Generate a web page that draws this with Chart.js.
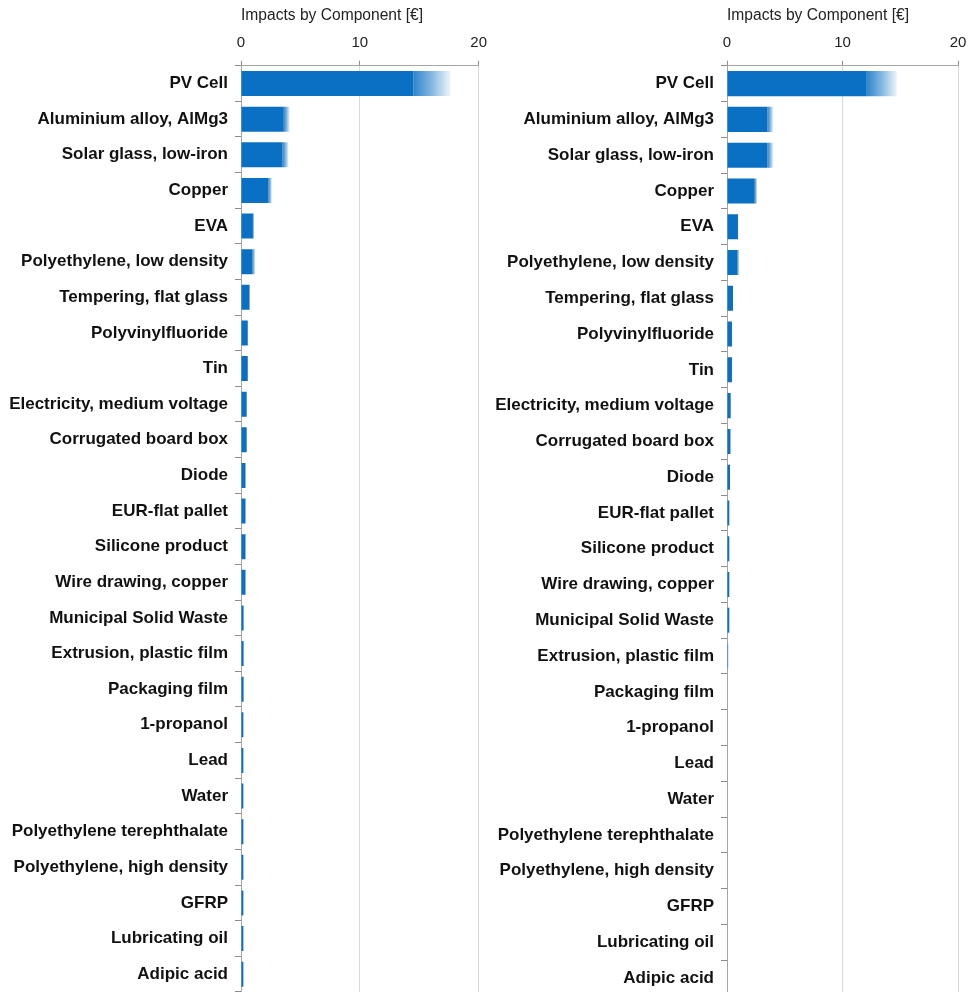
<!DOCTYPE html>
<html>
<head>
<meta charset="utf-8">
<script src="https://cdn.jsdelivr.net/npm/chart.js@4/dist/chart.umd.min.js"></script>
<style>
  body { margin: 0; background: #fff; overflow: hidden; }
  #left { position: absolute; left: 0; top: 0; }
  #right { position: absolute; left: 486px; top: 0; }
</style>
</head>
<body>
<canvas id="left" width="496" height="992"></canvas>
<canvas id="right" width="491" height="996"></canvas>
<script>
const components = [
    'PV Cell', 'Aluminium alloy, AlMg3', 'Solar glass, low-iron', 'Copper', 'EVA',
    'Polyethylene, low density', 'Tempering, flat glass', 'Polyvinylfluoride', 'Tin',
    'Electricity, medium voltage', 'Corrugated board box', 'Diode', 'EUR-flat pallet',
    'Silicone product', 'Wire drawing, copper', 'Municipal Solid Waste',
    'Extrusion, plastic film', 'Packaging film', '1-propanol', 'Lead', 'Water',
    'Polyethylene terephthalate', 'Polyethylene, high density', 'GFRP',
    'Lubricating oil', 'Adipic acid'
];
const xTicks = [0, 10, 20];

// left panel: solid part and end of the faded range
const leftLow = [14.5, 3.6, 3.5, 2.3, 1.0, 0.95, 0.7, 0.57, 0.57, 0.48, 0.48, 0.38, 0.38,
    0.38, 0.38, 0.22, 0.22, 0.22, 0.2, 0.2, 0.2, 0.2, 0.2, 0.2, 0.2, 0.2];
const leftHigh = [17.6, 4.1, 4.0, 2.6, 1.1, 1.2, 0.75, 0.6, 0.6, 0.5, 0.5, 0.4, 0.4,
    0.4, 0.4, 0.25, 0.25, 0.22, 0.2, 0.2, 0.2, 0.2, 0.2, 0.2, 0.2, 0.2];

// right panel
const rightLow = [12.1, 3.5, 3.5, 2.4, 0.95, 0.9, 0.52, 0.43, 0.43, 0.32, 0.3, 0.26, 0.2,
    0.2, 0.2, 0.2, 0, 0, 0, 0, 0, 0, 0, 0, 0, 0];
const rightHigh = [14.7, 4.0, 4.0, 2.6, 1.0, 1.05, 0.55, 0.45, 0.45, 0.35, 0.33, 0.28, 0.22,
    0.22, 0.22, 0.22, 0.15, 0, 0, 0, 0, 0, 0, 0, 0, 0];

const blue = 'rgb(10,112,196)';

function fadeColor(ctx) {
    const chart = ctx.chart;
    if (!chart.chartArea || !ctx.raw) return 'rgba(10,112,196,0.4)';
    const x = chart.scales.x;
    const x0 = x.getPixelForValue(ctx.raw[0]);
    const x1 = x.getPixelForValue(ctx.raw[1]);
    if (x1 - x0 < 0.5) return 'rgba(10,112,196,0)';
    const g = chart.ctx.createLinearGradient(x0, 0, x1, 0);
    g.addColorStop(0, 'rgba(10,112,196,0.85)');
    g.addColorStop(0.5, 'rgba(10,112,196,0.5)');
    g.addColorStop(1, 'rgba(10,112,196,0.08)');
    return g;
}

function makeChart(id, lows, highs, padRight, axisWidth) {
    const ctx = document.getElementById(id).getContext('2d');
    return new Chart(ctx, {
        type: 'bar',
        data: {
            labels: components,
            datasets: [{
                data: lows,
                backgroundColor: blue,
                barPercentage: 0.7,
                categoryPercentage: 1
            }, {
                data: lows.map((v, i) => [v, highs[i]]),
                backgroundColor: fadeColor,
                barPercentage: 0.7,
                categoryPercentage: 1
            }]
        },
        options: {
            indexAxis: 'y', // horizontal bars
            responsive: false,
            animation: false,
            layout: { padding: { top: 2, right: padRight, bottom: 0, left: 0 } },
            plugins: {
                legend: { display: false },
                tooltip: { enabled: false }
            },
            scales: {
                x: {
                    position: 'top',
                    min: 0,
                    max: 20,
                    afterBuildTicks: s => { s.ticks = xTicks.map(v => ({ value: v })); },
                    ticks: {
                        font: { family: 'Liberation Sans, Arial', size: 15 },
                        color: '#222',
                        padding: 9
                    },
                    grid: {
                        color: '#d9d9d9',
                        tickColor: '#8c8c8c',
                        tickLength: 5
                    },
                    border: { color: '#a6a6a6' },
                    title: {
                        display: true,
                        align: 'start',
                        text: 'Impacts by Component [€]',
                        font: { family: 'Liberation Sans, Arial', size: 15.6 },
                        color: '#222',
                        padding: { top: 4, bottom: 0 }
                    }
                },
                y: {
                    stacked: true,
                    afterFit: s => {
                        s.width = axisWidth;
                        s.paddingTop = 0;
                        s.paddingBottom = 0;
                    },
                    ticks: {
                        font: { family: 'Liberation Sans, Arial', size: 17, weight: 'bold' },
                        color: '#111',
                        padding: 7
                    },
                    grid: {
                        offset: true,
                        drawOnChartArea: false,
                        tickColor: '#8c8c8c',
                        tickLength: 6
                    },
                    border: { color: '#a6a6a6' }
                }
            }
        }
    });
}

makeChart('left', leftLow, leftHigh, 6, 241);
makeChart('right', rightLow, rightHigh, 19, 241);
</script>
</body>
</html>
